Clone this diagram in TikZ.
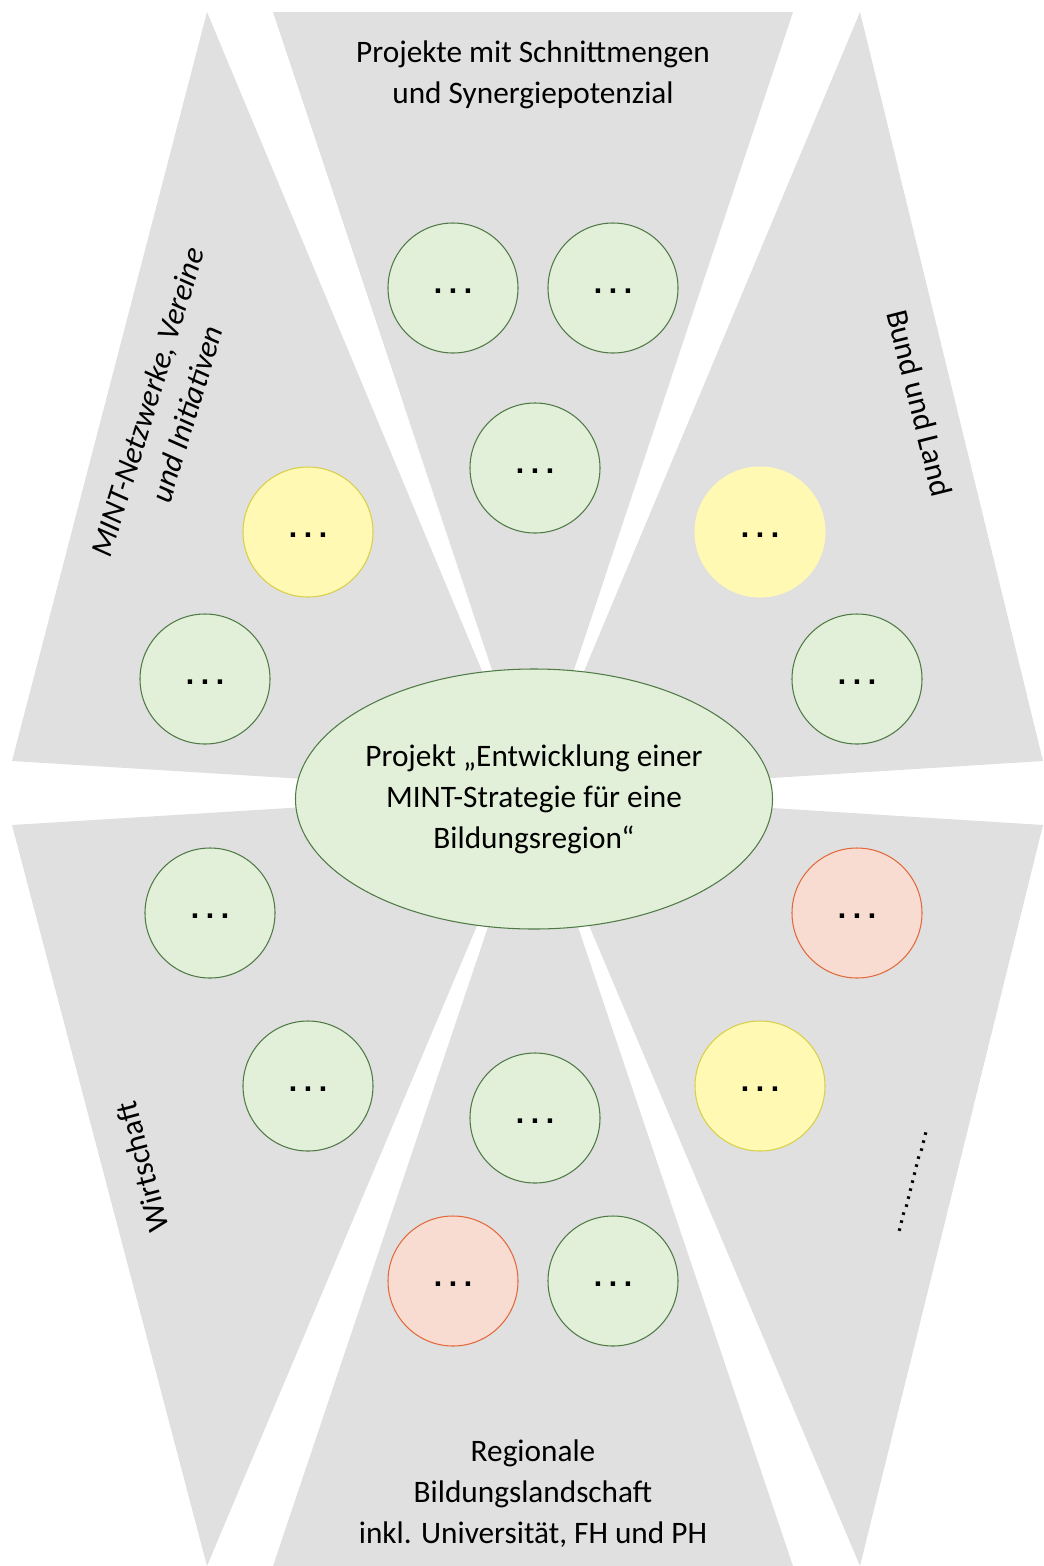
\documentclass[tikz,border=0pt]{standalone}
\usepackage{fontspec}
\setmainfont{Carlito}
\newfontfamily\punktfont{DejaVu Sans}
\usepackage{tikz}
\usetikzlibrary{shapes,positioning}

\definecolor{keilgrau}{HTML}{E0E0E0}
\definecolor{gruenfill}{HTML}{E2F0D9}
\definecolor{gruenrand}{HTML}{4F7A45}
\definecolor{gelbfill}{HTML}{FFF9B3}
\definecolor{gelbrand}{HTML}{D8D04A}
\definecolor{rotfill}{HTML}{F9DCD1}
\definecolor{rotrand}{HTML}{E2693C}

\newcommand{\punkte}{.\kern3.2pt.\kern3.2pt.}

\begin{document}
\begin{tikzpicture}[x=0.2mm,y=-0.2mm,node distance=32mm,
                    font=\fontsize{17.8}{23.3}\selectfont]
  \tikzstyle{keil}=[fill=keilgrau]
  \tikzstyle{bubble}=[circle,minimum size=26mm,inner sep=0pt,line width=0.6pt,
                      text height=6pt,text depth=0pt,
                      font=\punktfont\fontsize{14}{16}\selectfont\bfseries]
  \tikzstyle{gruen}=[bubble,fill=gruenfill,draw=gruenrand]
  \tikzstyle{gelb}=[bubble,fill=gelbfill,draw=gelbrand]
  \tikzstyle{rot}=[bubble,fill=rotfill,draw=rotrand]

  \useasboundingbox (0,0) rectangle (1043,1566);
  \coordinate (M) at (533,793);

  % six wedges around the middle
  \fill[keil] (207,12)   -- (12,761)    -- (M) -- cycle;
  \fill[keil] (273,12)   -- (793,12)    -- (M) -- cycle;
  \fill[keil] (860,12)   -- (1043,761)  -- (M) -- cycle;
  \fill[keil] (12,825)   -- (207,1566)  -- (M) -- cycle;
  \fill[keil] (273,1566) -- (793,1566)  -- (M) -- cycle;
  \fill[keil] (1043,825) -- (860,1566)  -- (M) -- cycle;

  \node[ellipse,fill=gruenfill,draw=gruenrand,line width=0.6pt,
        minimum width=95.4mm,minimum height=52mm,inner sep=0pt,align=center]
        (P) at (534,799) {Projekt „Entwicklung einer\\MINT-Strategie für eine\\Bildungsregion“};

  \node[gruen] (A) at (453,288)   {\punkte};
  \node[gruen] (B) [right of=A]   {\punkte};
  \node[gruen] (C) at (535,468)   {\punkte};
  \node[gelb]  (D) at (308,532)   {\punkte};
  \node[gruen] (E) at (205,679)   {\punkte};
  \node[gelb,draw=gelbfill] (F) at (760,532) {\punkte};
  \node[gruen] (G) at (857,679)   {\punkte};
  \node[gruen] (H) at (210,913)   {\punkte};
  \node[gruen] (I) at (308,1086)  {\punkte};
  \node[rot]   (J) at (857,913)   {\punkte};
  \node[gelb]  (K) at (760,1086)  {\punkte};
  \node[gruen] (L) at (535,1118)  {\punkte};
  \node[rot]   (N) at (453,1281)  {\punkte};
  \node[gruen] (Q) [right of=N]   {\punkte};

  \node[align=center] (T1) at (533,75) {Projekte mit Schnittmengen\\und Synergiepotenzial};
  \node[align=center,rotate=73,font=\fontsize{17.8}{23.3}\selectfont\itshape]
        (T2) at (167,408) {MINT-Netzwerke, Vereine\\und Initiativen};
  \node[rotate=-76] (T3) at (920,403)  {Bund und Land};
  \node[rotate=105] (T4) at (142,1167) {Wirtschaft};
  \node[rotate=75,font=\punktfont\fontsize{14.8}{16}\selectfont]
        (T5) at (913,1182) {.............};
  \node[align=center] (T6) at (533,1494) {Regionale\\Bildungslandschaft\\inkl. Universität, FH und PH};
\end{tikzpicture}
\end{document}
